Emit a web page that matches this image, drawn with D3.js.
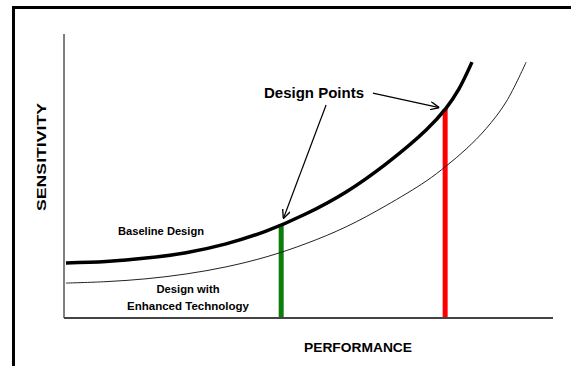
<html>
<head>
<script src="https://d3js.org/d3.v7.min.js"></script>
<style>
  body { margin: 0; background: #fff; }
  text { font-family: "Liberation Sans", Arial, sans-serif; font-weight: bold; fill: #000; }
</style>
</head>
<body>
<script>
// performance / sensitivity in arbitrary units (0-100)
var basePerf  = [0.2, 8.4, 16.6, 24.8, 33.0, 41.2, 49.4, 57.6, 65.8, 74.0, 78.1, 80.7, 83.4];
var baseSens  = [19.4, 19.9, 21.1, 23.0, 26.1, 30.6, 36.7, 44.4, 54.3, 66.2, 73.9, 80.6, 90.1];
var enhPerf   = [0.2, 8.4, 16.6, 24.8, 33.0, 41.2, 49.4, 57.6, 65.8, 74.0, 78.1, 82.2, 86.3, 90.4, 94.5];
var enhSens   = [12.3, 12.8, 13.8, 15.5, 18.0, 21.5, 26.2, 32.1, 39.6, 48.2, 53.5, 59.5, 66.7, 76.1, 90.1];
var designPerf = [44.3, 77.9];
var designSens = [33.0, 73.6];
var designColors = ["#0b7d0b", "#ff0000"];

var width = 571, height = 366;

var svg = d3.select("body").append("svg")
    .attr("width", width)
    .attr("height", height);

// outer frame (runs off the right and bottom edge)
svg.append("rect")
    .attr("x", 13.5).attr("y", 7.5)
    .attr("width", 600).attr("height", 400)
    .attr("fill", "none").attr("stroke", "#000").attr("stroke-width", 3);

var x = d3.scaleLinear().domain([0, 100]).range([65, 553]);
var y = d3.scaleLinear().domain([0, 100]).range([318, 34]);

var defs = svg.append("defs");
defs.append("marker")
    .attr("id", "arrow")
    .attr("viewBox", "0 0 10 10")
    .attr("refX", 10).attr("refY", 5)
    .attr("markerWidth", 9).attr("markerHeight", 9)
    .attr("markerUnits", "userSpaceOnUse")
    .attr("orient", "auto")
  .append("path")
    .attr("d", "M0,0.5 L10,5 L0,9.5")
    .attr("fill", "none").attr("stroke", "#000").attr("stroke-width", 1.5);

// axes
svg.append("line")
    .attr("x1", x(0) - 1).attr("x2", x(0) - 1)
    .attr("y1", y(0)).attr("y2", y(100))
    .attr("stroke", "#000").attr("stroke-width", 1);
svg.append("line")
    .attr("x1", x(0) - 1).attr("x2", x(100))
    .attr("y1", y(0)).attr("y2", y(0))
    .attr("stroke", "#444").attr("stroke-width", 2);

// design point bars
svg.selectAll(".bar")
    .data(designPerf).enter()
    .append("line")
    .attr("x1", d => x(d)).attr("x2", d => x(d))
    .attr("y1", (d, i) => y(designSens[i]))
    .attr("y2", y(0) - 1)
    .attr("stroke", (d, i) => designColors[i])
    .attr("stroke-width", 5);

var line = d3.line()
    .x(d => x(d[0]))
    .y(d => y(d[1]))
    .curve(d3.curveCatmullRom.alpha(0.5));

svg.append("path")
    .datum(d3.zip(enhPerf, enhSens))
    .attr("d", line)
    .attr("fill", "none").attr("stroke", "#222").attr("stroke-width", 1);

svg.append("path")
    .datum(d3.zip(basePerf, baseSens))
    .attr("d", line)
    .attr("fill", "none").attr("stroke", "#000").attr("stroke-width", 3.5);

// annotation arrows
var arrowFrom = [[53.5, 75], [63.1, 79.2]];
designPerf.forEach(function(p, i) {
    var x0 = x(arrowFrom[i][0]), y0 = y(arrowFrom[i][1]);
    var x1 = x(p), y1 = y(designSens[i]);
    var len = Math.hypot(x1 - x0, y1 - y0);
    var k = (len - 6) / len;
    svg.append("line")
        .attr("x1", x0).attr("y1", y0)
        .attr("x2", x0 + (x1 - x0) * k).attr("y2", y0 + (y1 - y0) * k)
        .attr("stroke", "#000").attr("stroke-width", 1.2)
        .attr("marker-end", "url(#arrow)");
});

svg.append("text")
    .attr("x", 314).attr("y", 98)
    .attr("text-anchor", "middle")
    .attr("font-size", 15.5)
    .attr("textLength", 100).attr("lengthAdjust", "spacingAndGlyphs")
    .text("Design Points");

svg.append("text")
    .attr("x", 161).attr("y", 235)
    .attr("text-anchor", "middle")
    .attr("font-size", 11.2)
    .attr("textLength", 86).attr("lengthAdjust", "spacingAndGlyphs")
    .text("Baseline Design");

svg.append("text")
    .attr("x", 188).attr("y", 293)
    .attr("text-anchor", "middle")
    .attr("font-size", 11.2)
    .attr("textLength", 63).attr("lengthAdjust", "spacingAndGlyphs")
    .text("Design with");

svg.append("text")
    .attr("x", 188).attr("y", 310)
    .attr("text-anchor", "middle")
    .attr("font-size", 11.2)
    .attr("textLength", 122).attr("lengthAdjust", "spacingAndGlyphs")
    .text("Enhanced Technology");

svg.append("text")
    .attr("transform", "translate(46,157) rotate(-90)")
    .attr("text-anchor", "middle")
    .attr("font-size", 13.5)
    .attr("textLength", 108).attr("lengthAdjust", "spacingAndGlyphs")
    .text("SENSITIVITY");

svg.append("text")
    .attr("x", 358).attr("y", 352)
    .attr("text-anchor", "middle")
    .attr("font-size", 13.5)
    .attr("textLength", 108).attr("lengthAdjust", "spacingAndGlyphs")
    .text("PERFORMANCE");
</script>
</body>
</html>
